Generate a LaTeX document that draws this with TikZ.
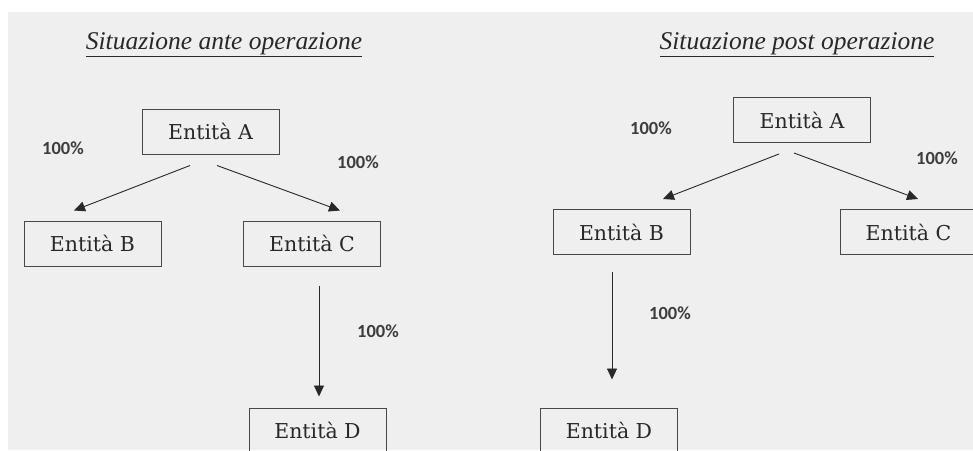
\documentclass[tikz,border=0pt]{standalone}
\usepackage{fontspec}
\setmainfont{Liberation Serif}
\newfontfamily\boxfont{DejaVu Serif}
\newfontfamily\pctfont{Carlito}
\usetikzlibrary{arrows.meta}
\definecolor{sheet}{RGB}{239,239,239}
\definecolor{ink}{RGB}{40,40,40}
\newcommand{\pct}{100\%}

\begin{document}
\begin{tikzpicture}[x=1pt, y=-1pt, >={Triangle[length=11pt, width=10pt]},
    box/.style={draw=ink!85, line width=1pt, minimum width=137pt, minimum height=45pt,
      inner sep=0pt, text=ink, font=\boxfont\fontsize{20.5}{23}\selectfont},
    lbl/.style={text=ink!90, font=\pctfont\bfseries\fontsize{18.5}{20}\selectfont},
    ttl/.style={text=ink, font=\itshape\fontsize{25.5}{28}\selectfont},
    arr/.style={->, draw=ink, line width=0.9pt}]
  \clip (0,0) rectangle (973,450);
  \fill[white] (0,0) rectangle (973,450);
  \fill[sheet] (8,12) rectangle (973,450);
  % ante
  \node[ttl] (tA) at (224,45) {\underline{Situazione ante operazione}};
  \node[box] (a1) at (210.5,131.5) {Entità A};
  \node[box] (b1) at (92.5,243.5) {Entità B};
  \node[box] (c1) at (312,243.5) {Entità C};
  \node[box] (d1) at (317.5,430.5) {Entità D};
  \node[lbl] (p1) at (63,148) {\pct};
  \node[lbl] (p2) at (358,162) {\pct};
  \node[lbl] (p3) at (378,331) {\pct};
  \draw[arr] ([xshift=-20.5pt, yshift=-11pt]a1.south) -- ([xshift=-18.5pt, yshift=10pt]b1.north);
  \draw[arr] ([xshift=6.5pt, yshift=-11pt]a1.south) -- ([xshift=28pt, yshift=10pt]c1.north);
  \draw[arr] ([xshift=7pt, yshift=-19pt]c1.south) -- ([xshift=1.5pt, yshift=11pt]d1.north);
  % post
  \node[ttl] (tP) at (797,45) {\underline{Situazione post operazione}};
  \node[box] (a2) at (802,120) {Entità A};
  \node[box] (b2) at (621.5,232) {Entità B};
  \node[box] (c2) at (908.5,232) {Entità C};
  \node[box] (d2) at (609,430.5) {Entità D};
  \node[lbl] (p4) at (651,128) {\pct};
  \node[lbl] (p5) at (937,158) {\pct};
  \node[lbl] (p6) at (670,313) {\pct};
  \draw[arr] ([xshift=-23pt, yshift=-11pt]a2.south) -- ([xshift=41.5pt, yshift=10pt]b2.north);
  \draw[arr] ([xshift=-8pt, yshift=-10pt]a2.south) -- ([xshift=9.5pt, yshift=10pt]c2.north);
  \draw[arr] ([xshift=-9.5pt, yshift=-17pt]b2.south) -- ([xshift=3pt, yshift=28pt]d2.north);
\end{tikzpicture}
\end{document}
